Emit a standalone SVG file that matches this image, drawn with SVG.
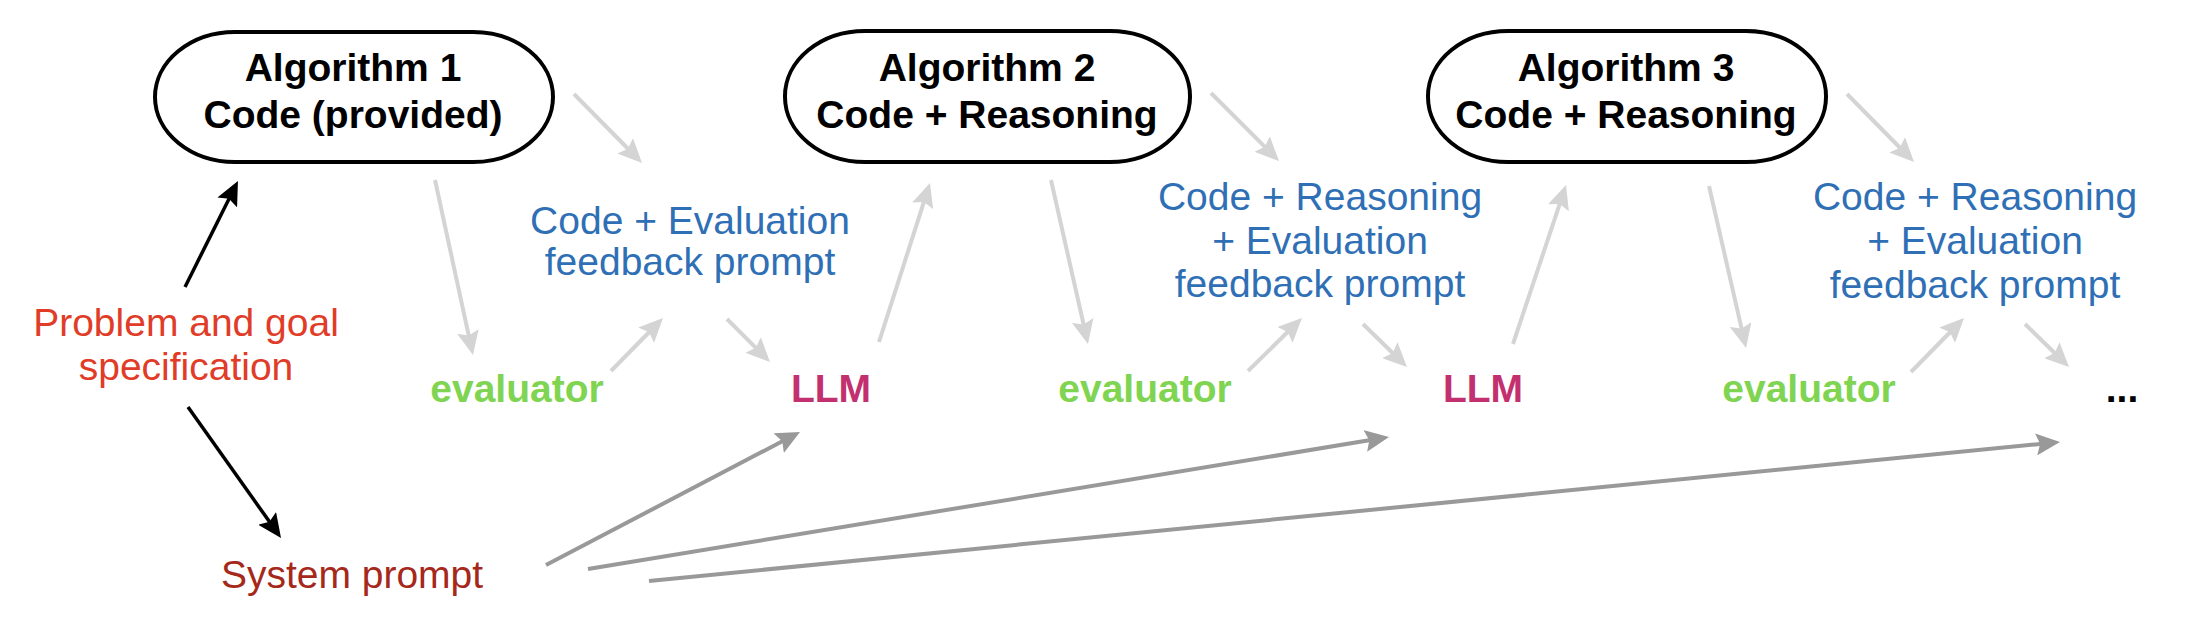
<svg xmlns="http://www.w3.org/2000/svg" width="2196" height="622" viewBox="0 0 2196 622">
<style>
.alg{fill:#fff;stroke:#000;stroke-width:4}
.t{font-family:"Liberation Sans",Arial,Helvetica,sans-serif;font-size:39px;text-anchor:middle}
.b{font-weight:bold}
.blk{fill:#000}
.blue{fill:#2f6fb5}
.green{fill:#7fd452}
.llm{fill:#c3306f}
.red{fill:#e03c28}
.dred{fill:#a5281b}
.lg{stroke:#d4d4d4;stroke-width:4;fill:none;marker-end:url(#hl)}
.dg{stroke:#999;stroke-width:4;fill:none;marker-end:url(#hd)}
.bk{stroke:#000;stroke-width:3.5;fill:none;marker-end:url(#hb)}
</style>
<defs>
<marker id="hl" markerUnits="userSpaceOnUse" markerWidth="24" markerHeight="22" refX="10" refY="11" orient="auto"><path d="M0,0 L24,11 L0,22 L4,11 Z" fill="#d4d4d4"/></marker>
<marker id="hd" markerUnits="userSpaceOnUse" markerWidth="24" markerHeight="22" refX="10" refY="11" orient="auto"><path d="M0,0 L24,11 L0,22 L4,11 Z" fill="#999"/></marker>
<marker id="hb" markerUnits="userSpaceOnUse" markerWidth="24" markerHeight="22" refX="10" refY="11" orient="auto"><path d="M0,0 L24,11 L0,22 L4,11 Z" fill="#000"/></marker>
</defs>
<rect width="2196" height="622" fill="#fff"/>

<g id="connectors">
<line class="lg" x1="574" y1="94" x2="632.2" y2="153"/>
<line class="lg" x1="1211" y1="93" x2="1269.1" y2="151.1"/>
<line class="lg" x1="1847" y1="94" x2="1904.2" y2="152"/>
<line class="lg" x1="435" y1="180" x2="470" y2="341.3"/>
<line class="lg" x1="1051" y1="180" x2="1084.9" y2="330.3"/>
<line class="lg" x1="1709" y1="186" x2="1742.9" y2="334.4"/>
<line class="lg" x1="879" y1="342" x2="925.7" y2="196.3"/>
<line class="lg" x1="1513" y1="344" x2="1561.6" y2="198.3"/>
<line class="lg" x1="611" y1="371" x2="653.2" y2="328"/>
<line class="lg" x1="1248" y1="371" x2="1292" y2="327.8"/>
<line class="lg" x1="1911" y1="372" x2="1954.2" y2="328"/>
<line class="lg" x1="727" y1="319" x2="760.1" y2="352.1"/>
<line class="lg" x1="1363" y1="324" x2="1397" y2="357.2"/>
<line class="lg" x1="2025" y1="324" x2="2059" y2="357.2"/>
<line class="bk" x1="185" y1="287" x2="231.7" y2="193.5"/>
<line class="bk" x1="188" y1="407" x2="272.9" y2="526.6"/>
<line class="dg" x1="546" y1="565" x2="787.6" y2="438.5"/>
<line class="dg" x1="588" y1="569" x2="1375.2" y2="439.3"/>
<line class="dg" x1="649" y1="581" x2="2046.1" y2="443.4"/>
</g>

<g id="alg1">
<rect class="alg" x="155" y="32" width="398" height="130" rx="80" ry="65"/>
<text class="t b blk" x="353" y="81">Algorithm 1</text>
<text class="t b blk" x="353" y="128">Code (provided)</text>
</g>
<g id="alg2">
<rect class="alg" x="785" y="31" width="405" height="131" rx="80" ry="65"/>
<text class="t b blk" x="987" y="81">Algorithm 2</text>
<text class="t b blk" x="987" y="128">Code + Reasoning</text>
</g>
<g id="alg3">
<rect class="alg" x="1428" y="31" width="398" height="131" rx="80" ry="65"/>
<text class="t b blk" x="1626" y="81">Algorithm 3</text>
<text class="t b blk" x="1626" y="128">Code + Reasoning</text>
</g>

<g id="prompt1">
<text class="t blue" x="690" y="234">Code + Evaluation</text>
<text class="t blue" x="690" y="275">feedback prompt</text>
</g>
<g id="prompt2">
<text class="t blue" x="1320" y="210">Code + Reasoning</text>
<text class="t blue" x="1320" y="254">+ Evaluation</text>
<text class="t blue" x="1320" y="297">feedback prompt</text>
</g>
<g id="prompt3">
<text class="t blue" x="1975" y="210">Code + Reasoning</text>
<text class="t blue" x="1975" y="254">+ Evaluation</text>
<text class="t blue" x="1975" y="298">feedback prompt</text>
</g>

<g id="evaluator1"><text class="t b green" x="517" y="402">evaluator</text></g>
<g id="llm1"><text class="t b llm" x="831" y="402">LLM</text></g>
<g id="evaluator2"><text class="t b green" x="1145" y="402">evaluator</text></g>
<g id="llm2"><text class="t b llm" x="1483" y="402">LLM</text></g>
<g id="evaluator3"><text class="t b green" x="1809" y="402">evaluator</text></g>
<g id="ellipsis"><text class="t b blk" x="2122" y="402">...</text></g>

<g id="problem">
<text class="t red" x="186" y="336">Problem and goal</text>
<text class="t red" x="186" y="380">specification</text>
</g>
<g id="system">
<text class="t dred" x="352" y="588">System prompt</text>
</g>
</svg>
